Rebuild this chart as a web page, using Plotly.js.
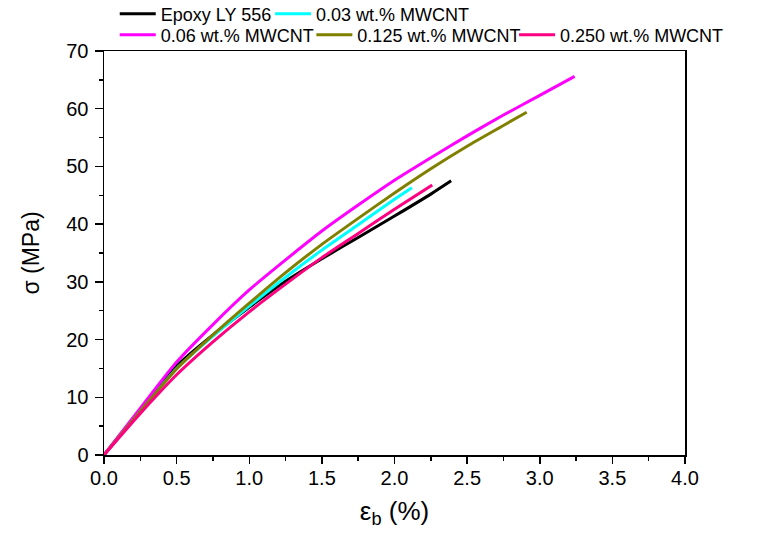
<!DOCTYPE html>
<html>
<head>
<meta charset="utf-8">
<script src="https://cdn.plot.ly/plotly-3.0.1.min.js"></script>
<style>
  html, body { margin: 0; padding: 0; background: #fff; }
  #chart { width: 765px; height: 539px; }
</style>
</head>
<body>
<div id="chart"></div>
<script>
// Stress–strain curves of epoxy LY 556 and its MWCNT nanocomposites
const seriesNames = ['Epoxy LY 556', '0.03 wt.% MWCNT', '0.06 wt.% MWCNT', '0.125 wt.% MWCNT', '0.250 wt.% MWCNT'];
const seriesColors = ['#000000', '#00FFFF', '#FF00FF', '#808000', '#FF0080'];

// strain (%)
const strainEpoxy = [0, 0.25, 0.5, 0.75, 1.0, 1.25, 1.5, 1.75, 2.0, 2.25, 2.39];
const strain003   = [0, 0.25, 0.5, 0.75, 1.0, 1.25, 1.5, 1.75, 2.0, 2.12];
const strain006   = [0, 0.25, 0.5, 0.75, 1.0, 1.25, 1.5, 1.75, 2.0, 2.25, 2.5, 2.75, 3.0, 3.24];
const strain0125  = [0, 0.25, 0.5, 0.75, 1.0, 1.25, 1.5, 1.75, 2.0, 2.25, 2.5, 2.75, 2.91];
const strain0250  = [0, 0.25, 0.5, 0.75, 1.0, 1.25, 1.5, 1.75, 2.0, 2.26];

// stress (MPa)
const stressEpoxy = [0, 7.8, 15.4, 20.8, 25.6, 30.1, 34.0, 37.7, 41.4, 45.2, 47.5];
const stress003   = [0, 7.6, 15.0, 20.6, 25.8, 30.8, 35.5, 39.9, 44.3, 46.3];
const stress006   = [0, 8.1, 16.1, 22.6, 28.6, 33.8, 38.8, 43.3, 47.6, 51.5, 55.3, 58.9, 62.3, 65.6];
const stress0125  = [0, 7.6, 14.9, 20.8, 26.3, 31.6, 36.5, 41.0, 45.4, 49.6, 53.5, 57.1, 59.4];
const stress0250  = [0, 7.2, 13.9, 19.6, 24.8, 29.6, 34.2, 38.4, 42.6, 46.8];

const xTickVals = [0, 0.5, 1, 1.5, 2, 2.5, 3, 3.5, 4];
const xTickText = ['0.0', '0.5', '1.0', '1.5', '2.0', '2.5', '3.0', '3.5', '4.0'];
const yTickVals = [0, 10, 20, 30, 40, 50, 60, 70];

const xs = [strainEpoxy, strain003, strain006, strain0125, strain0250];
const ys = [stressEpoxy, stress003, stress006, stress0125, stress0250];

// one legend box per entry, laid out in two rows above the plot
const legendIds = ['legend', 'legend2', 'legend3', 'legend4', 'legend5'];
const legendX = [0.150, 0.353, 0.150, 0.407, 0.672];
const legendY = [0.974, 0.974, 0.935, 0.935, 0.935];

const traces = xs.map((x, i) => ({
  type: 'scatter',
  mode: 'lines',
  x: x,
  y: ys[i],
  name: seriesNames[i],
  legend: legendIds[i],
  line: { color: seriesColors[i], width: 3, shape: 'spline', smoothing: 0.6 }
}));

const font = 'Liberation Sans, Arial, sans-serif';

const layout = {
  width: 765,
  height: 539,
  margin: { l: 104, r: 80, t: 51, b: 84, autoexpand: false },
  paper_bgcolor: '#fff',
  plot_bgcolor: '#fff',
  font: { family: font, color: '#000' },
  showlegend: true,
  xaxis: {
    range: [0, 4],
    tickvals: xTickVals,
    ticktext: xTickText,
    ticks: 'outside',
    ticklen: 7,
    tickwidth: 1.5,
    tickcolor: '#000',
    ticklabelstandoff: -3,
    minor: { ticks: 'outside', dtick: 0.25, ticklen: 4, tickwidth: 1.5, tickcolor: '#000' },
    showline: true,
    linecolor: '#000',
    linewidth: 1.5,
    mirror: true,
    showgrid: false,
    zeroline: false,
    automargin: false,
    tickfont: { family: font, size: 20, color: '#000' },
    title: { text: 'ε<sub>b</sub> (%)', font: { family: font, size: 26, color: '#000' }, standoff: 14 }
  },
  yaxis: {
    range: [0, 70],
    tickvals: yTickVals,
    ticks: 'outside',
    ticklen: 8,
    tickwidth: 1.5,
    tickcolor: '#000',
    ticklabelstandoff: 2,
    minor: { ticks: 'outside', dtick: 5, ticklen: 4, tickwidth: 1.5, tickcolor: '#000' },
    showline: true,
    linecolor: '#000',
    linewidth: 1.5,
    mirror: true,
    showgrid: false,
    zeroline: false,
    automargin: false,
    tickfont: { family: font, size: 20, color: '#000' },
    title: { text: 'σ (MPa)', font: { family: font, size: 23, color: '#000' }, standoff: 20 }
  }
};

legendIds.forEach((id, i) => {
  layout[id] = {
    orientation: 'h',
    xref: 'container',
    yref: 'container',
    x: legendX[i],
    y: legendY[i],
    xanchor: 'left',
    yanchor: 'middle',
    font: { family: font, size: 18, color: '#000' },
    bgcolor: 'rgba(0,0,0,0)',
    borderwidth: 0,
    itemwidth: 36
  };
});

Plotly.newPlot('chart', traces, layout, { displayModeBar: false, staticPlot: true });
</script>
</body>
</html>
